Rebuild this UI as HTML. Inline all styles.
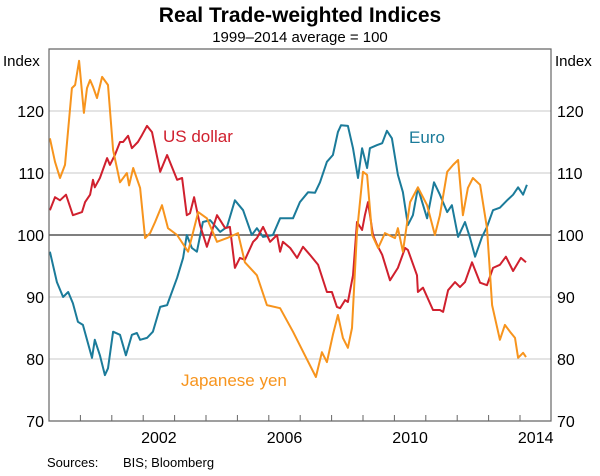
<!DOCTYPE html>
<html><head><meta charset="utf-8"><style>
body{margin:0;background:#fff;width:600px;height:471px;overflow:hidden;font-family:"Liberation Sans",Arial,sans-serif}
svg text{font-family:"Liberation Sans",Arial,sans-serif}
</style></head><body>
<svg id="chart" width="600" height="471" xmlns="http://www.w3.org/2000/svg">
<text x="300" y="22" text-anchor="middle" font-size="21" font-weight="bold">Real Trade-weighted Indices</text>
<text x="300" y="42" text-anchor="middle" font-size="15">1999–2014 average = 100</text>
<text x="3" y="66" font-size="15">Index</text>
<text x="555" y="66" font-size="15">Index</text>
<g id="grid"></g><g id="series"></g><g id="axes"></g>
<text x="163" y="142" font-size="17" fill="#d0202e">US dollar</text>
<text x="409" y="143" font-size="17" fill="#1b7b9a">Euro</text>
<text x="181" y="386" font-size="17" fill="#f7941d">Japanese yen</text>
<text x="47" y="467" font-size="13">Sources:</text>
<text x="123" y="467" font-size="13">BIS; Bloomberg</text>
</svg>
<script>
const yTicks=[70,80,90,100,110,120];
const xLabels=[2002,2006,2010,2014];
const yenT=[1999.03,1999.19,1999.35,1999.51,1999.73,1999.83,1999.96,2000.11,2000.21,2000.31,2000.40,2000.53,2000.69,2000.88,2001.04,2001.26,2001.48,2001.55,2001.68,2001.90,2002.06,2002.22,2002.38,2002.60,2002.79,2003.08,2003.43,2003.75,2004.03,2004.35,2004.67,2005.02,2005.24,2005.62,2005.94,2006.36,2006.77,2007.15,2007.50,2007.69,2007.85,2008.04,2008.20,2008.36,2008.52,2008.65,2008.81,2009.00,2009.13,2009.29,2009.48,2009.70,2010.02,2010.11,2010.27,2010.50,2010.75,2011.04,2011.29,2011.45,2011.68,2011.87,2012.03,2012.18,2012.34,2012.50,2012.73,2012.95,2013.11,2013.36,2013.52,2013.68,2013.84,2013.94,2014.10,2014.19];
const yenV=[115.6,111.8,109.2,111.3,123.7,124.2,128.1,119.7,123.7,125,123.9,122.1,125.5,124.2,113.7,108.5,110,108,110.8,107.6,99.5,100.3,102.1,104.8,101.1,100,97.3,103.7,102.7,98.9,99.5,100.3,95.6,93.5,88.7,88.2,84.4,80.6,77.1,81.1,79.5,83.9,87.1,83.4,81.8,85,100.5,110.2,109.7,100,97.9,100.3,99.5,101.1,97.3,105.3,107.7,104.8,100,103.2,110.2,111.3,112.1,103.2,107.6,109.2,108.1,101.1,88.7,83.1,85.5,84.4,83.4,80.2,81,80.3];
const usdT=[1999.03,1999.19,1999.35,1999.54,1999.76,2000.05,2000.15,2000.31,2000.40,2000.46,2000.62,2000.85,2000.94,2001.10,2001.26,2001.36,2001.52,2001.64,2001.83,2001.96,2002.12,2002.28,2002.54,2002.76,2003.08,2003.24,2003.39,2003.49,2003.62,2003.81,2004.03,2004.35,2004.61,2004.76,2004.92,2005.08,2005.24,2005.50,2005.62,2005.82,2006.04,2006.26,2006.36,2006.45,2006.68,2006.90,2007.09,2007.31,2007.57,2007.85,2008.01,2008.17,2008.27,2008.43,2008.52,2008.68,2008.81,2008.97,2009.06,2009.16,2009.32,2009.45,2009.61,2009.86,2010.11,2010.34,2010.43,2010.72,2010.75,2010.91,2011.23,2011.45,2011.55,2011.71,2011.93,2012.09,2012.25,2012.47,2012.73,2012.95,2013.14,2013.36,2013.55,2013.78,2014.03,2014.19];
const usdV=[104,106.1,105.6,106.5,103.2,103.7,105.3,106.5,108.9,107.7,109.2,112.4,111.3,112.9,115,115,116,114,115,116.1,117.6,116.6,110.2,112.9,108.9,109.2,103.2,103.5,106.1,101.6,98.1,103.2,101.1,101.3,94.7,96.3,96,98.9,99.5,101.3,98.9,100,97.3,98.9,97.9,96.3,98.1,96.8,95.2,90.8,90.8,88.4,88.2,89.5,89.2,93.5,102.1,100.8,103.2,105.3,100,98.4,96.8,92.7,94.7,97.9,97.6,93.5,90.8,91.5,87.9,87.9,87.6,91.1,92.4,91.6,92.4,95.6,92.3,91.9,94.7,95.2,96.5,94.2,96.3,95.6];
const eurT=[1999.03,1999.25,1999.45,1999.61,1999.76,1999.92,2000.08,2000.37,2000.46,2000.62,2000.78,2000.88,2001.04,2001.26,2001.45,2001.64,2001.80,2001.90,2002.12,2002.31,2002.54,2002.76,2003.08,2003.27,2003.39,2003.55,2003.71,2003.90,2004.13,2004.45,2004.67,2004.92,2005.18,2005.46,2005.62,2005.82,2006.13,2006.36,2006.77,2006.99,2007.25,2007.47,2007.63,2007.85,2008.04,2008.20,2008.30,2008.52,2008.68,2008.84,2008.97,2009.13,2009.22,2009.45,2009.61,2009.76,2009.92,2010.11,2010.27,2010.43,2010.59,2010.75,2011.04,2011.26,2011.45,2011.68,2011.83,2012.03,2012.25,2012.41,2012.57,2012.79,2012.95,2013.14,2013.36,2013.59,2013.78,2013.94,2014.10,2014.22];
const eurV=[97.3,92.4,90,90.8,89,86,85.5,80.2,83.1,80.6,77.4,78.5,84.4,83.9,80.6,83.9,84.2,83.1,83.4,84.4,88.4,88.7,93.1,96.3,100,97.9,97.3,102.1,102.4,100.5,101.3,105.6,104,100,101.1,99.7,100,102.7,102.7,105.3,106.9,106.8,108.5,111.8,112.9,116.6,117.7,117.6,114,109.2,114,110.8,114,114.5,114.8,116.8,115.6,109.7,106.9,101.6,103.2,107.6,102.7,108.5,106.5,103.7,104.8,99.7,102.1,99.5,96.5,99.7,101.3,104,104.4,105.6,106.5,107.7,106.5,108.1];

const NS='http://www.w3.org/2000/svg';
const L=49,R=551,T=49,B=421;
function xs(t){return L+(t-1999)*31.4;}
function ys(v){return 235-(v-100)*6.2;}
function mk(tag,attrs,parent){const e=document.createElementNS(NS,tag);for(const k in attrs)e.setAttribute(k,attrs[k]);parent.appendChild(e);return e;}
const grid=document.getElementById('grid'),axes=document.getElementById('axes'),ser=document.getElementById('series');
yTicks.forEach(v=>{
  if(v>70){const g=mk('line',{x1:L,x2:R,y1:ys(v),y2:ys(v),stroke:v===100?'#333':'#c8c8c8','stroke-width':v===100?1.2:1},grid);
  
  }
  const a=mk('text',{x:L-5,y:ys(v)+6,'text-anchor':'end','font-size':16},axes);a.textContent=v;
  
  
  const b=mk('text',{x:R+6,y:ys(v)+6,'font-size':16},axes);b.textContent=v;
  
  
});
const frame=mk('path',{d:`M${L},${T}H${R}V${B}H${L}Z`,fill:'none',stroke:'#666','stroke-width':1.2},axes);


for(let y=2000;y<=2014;y++){const tk=mk('line',{x1:xs(y),x2:xs(y),y1:B,y2:B-6,stroke:'#666'},axes);
  
  }
xLabels.forEach(y=>{const t=mk('text',{x:xs(y+0.5),y:443,'text-anchor':'middle','font-size':16},axes);t.textContent=y;
  
  });
function line(T_,V,col,name){const d=T_.map((t,i)=>(i?'L':'M')+xs(t).toFixed(1)+','+ys(V[i]).toFixed(1)).join('');
  const p=mk('path',{d:d,fill:'none',stroke:col,'stroke-width':2,'stroke-linejoin':'round'},ser);
  
  }
line(eurT,eurV,'#1b7b9a','euro-line');
line(usdT,usdV,'#d0202e','us-dollar-line');
line(yenT,yenV,'#f7941d','japanese-yen-line');
</script>
</body></html>
